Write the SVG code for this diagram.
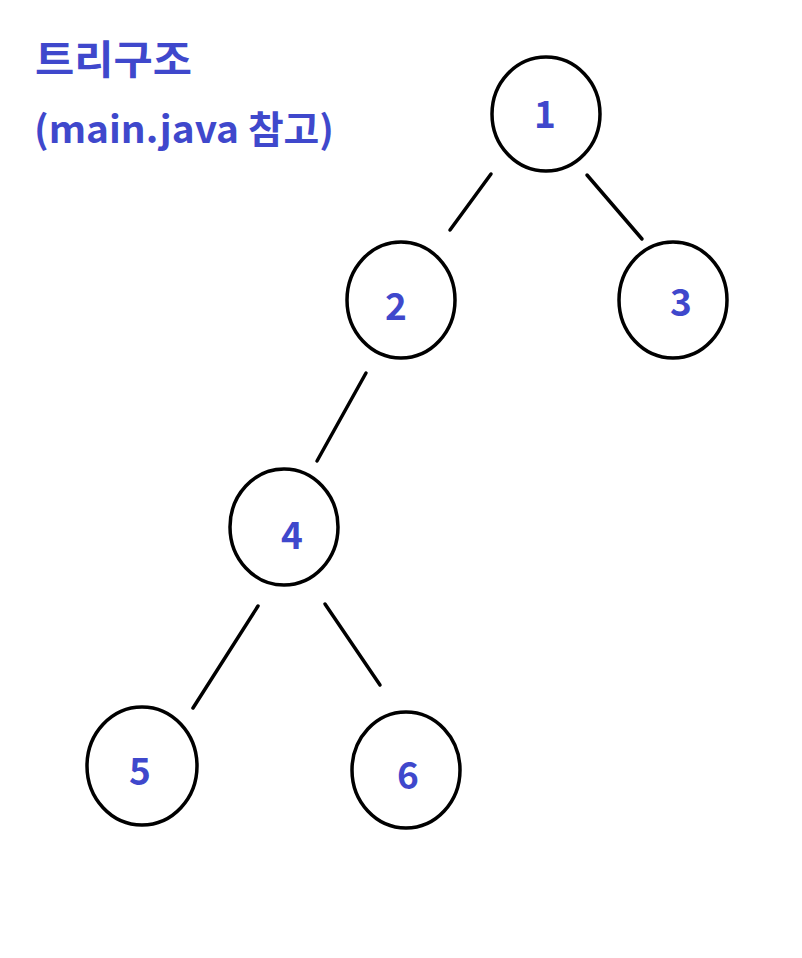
<svg xmlns="http://www.w3.org/2000/svg" width="802" height="958" viewBox="0 0 802 958">
<style>
.n{fill:#fff;stroke:#000;stroke-width:3.5}
.t{font-family:"Noto Sans CJK KR","Liberation Sans",sans-serif;font-weight:bold;fill:#3F48CC}
.l{font-size:37px;text-anchor:middle}
.e{stroke:#000;stroke-width:3.5;stroke-linecap:round;fill:none}
</style>
<rect width="802" height="958" fill="#fff"/>
<text class="t" x="35" y="74" font-size="40" textLength="157" lengthAdjust="spacingAndGlyphs">트리구조</text>
<text class="t" x="34" y="143" font-size="38" textLength="300" lengthAdjust="spacingAndGlyphs">(main.java 참고)</text>
<g id="connectors">
<line class="e" x1="491" y1="174" x2="450" y2="230"/>
<line class="e" x1="587" y1="175" x2="642" y2="239"/>
<line class="e" x1="366" y1="373" x2="317" y2="461"/>
<line class="e" x1="258" y1="606" x2="193" y2="708"/>
<line class="e" x1="325" y1="604" x2="380" y2="685"/>
</g>
<g id="n1"><ellipse class="n" cx="546" cy="114" rx="54" ry="57"/><text class="t l" x="545" y="128">1</text></g>
<g id="n2"><ellipse class="n" cx="401" cy="300" rx="54" ry="58"/><text class="t l" x="396" y="320">2</text></g>
<g id="n3"><ellipse class="n" cx="673" cy="300" rx="54" ry="58"/><text class="t l" x="681" y="316">3</text></g>
<g id="n4"><ellipse class="n" cx="284" cy="527" rx="54" ry="58"/><text class="t l" x="292" y="549">4</text></g>
<g id="n5"><ellipse class="n" cx="142" cy="766" rx="55" ry="59"/><text class="t l" x="140" y="785">5</text></g>
<g id="n6"><ellipse class="n" cx="406" cy="770" rx="54" ry="58"/><text class="t l" x="408" y="789">6</text></g>
</svg>
